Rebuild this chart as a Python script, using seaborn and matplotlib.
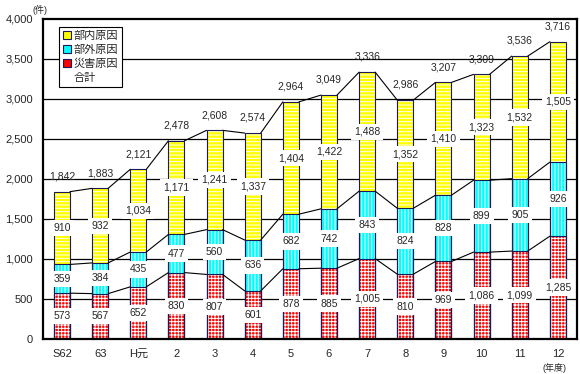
import matplotlib
matplotlib.use('Agg')
import matplotlib.pyplot as plt
import seaborn as sns
import pandas as pd
import numpy as np
from matplotlib.patches import Patch, Rectangle
from matplotlib.ticker import FuncFormatter

# data
years = ['S62', '63', 'H元', '2', '3', '4', '5', '6', '7', '8', '9', '10', '11', '12']
disaster = [573, 567, 652, 830, 807, 601, 878, 885, 1005, 810, 969, 1086, 1099, 1285]
external = [359, 384, 435, 477, 560, 636, 682, 742, 843, 824, 828, 899, 905, 926]
internal = [910, 932, 1034, 1171, 1241, 1337, 1404, 1422, 1488, 1352, 1410, 1323, 1532, 1505]
totals = [1842, 1883, 2121, 2478, 2608, 2574, 2964, 3049, 3336, 2986, 3207, 3309, 3536, 3716]

sns.set_style('white')
plt.rcParams['font.family'] = ['Liberation Sans', 'Noto Sans CJK JP', 'DejaVu Sans']
plt.rcParams['hatch.linewidth'] = 0.7

df = pd.DataFrame({'year': years, 'disaster': disaster, 'external': external,
                   'internal': internal, 'total': totals})
df['lvl1'] = df['disaster']
df['lvl2'] = df['disaster'] + df['external']
df['lvl3'] = df['lvl2'] + df['internal']

fig = plt.figure(figsize=(5.8, 3.74), dpi=100)
ax = fig.add_axes([0.074, 0.0936, 0.9207, 0.8556])

W = 0.42
edge = '#1a1a5a'
layers = [('lvl3', '#ffff00', '-----'), ('lvl2', '#00ffff', '|||||'), ('lvl1', '#ff0000', '+++++')]
for col, c, h in layers:
    sns.barplot(data=df, x='year', y=col, color=c, saturation=1, width=W, errorbar=None,
                hatch=h, edgecolor='white', linewidth=0, ax=ax, zorder=2)

# dark outlines on top of hatched bars
for p in list(ax.patches):
    ax.add_patch(Rectangle(p.get_xy(), p.get_width(), p.get_height(), fill=False,
                           edgecolor=edge, linewidth=0.8, zorder=2.5))

# series lines connecting segment tops
xs = np.arange(len(years))
for col in ['lvl1', 'lvl2', 'lvl3']:
    v = df[col].values
    for i in range(len(xs) - 1):
        ax.plot([xs[i] + W / 2, xs[i + 1] - W / 2], [v[i], v[i + 1]],
                color='black', lw=0.8, zorder=3)

# value labels
box = dict(boxstyle='square,pad=0.3', fc='white', ec='none')
fmt = lambda v: f'{v:,}'
for i in range(len(xs)):
    d, e, n = disaster[i], external[i], internal[i]
    ax.text(xs[i], d / 2, fmt(d), ha='center', va='center', fontsize=7.5, bbox=box, zorder=4)
    ax.text(xs[i], d + e / 2, fmt(e), ha='center', va='center', fontsize=7.5, bbox=box, zorder=4)
    ax.text(xs[i], d + e + n / 2, fmt(n), ha='center', va='center', fontsize=7.5, bbox=box, zorder=4)
    ax.annotate(fmt(totals[i]), (xs[i], d + e + n), xytext=(0, 11), textcoords='offset points',
                ha='center', va='center', fontsize=7.5, zorder=4)

ax.set_xlim(-0.5, len(years) - 0.5)
ax.set_ylim(0, 4000)
ax.set_yticks(np.arange(0, 4001, 500))
ax.yaxis.set_major_formatter(FuncFormatter(lambda v, pos: f'{int(v):,}'))
for yv in np.arange(500, 4000, 500):
    ax.axhline(yv, color='black', lw=0.9, zorder=1)
ax.set_xlabel('')
ax.set_ylabel('')
ax.tick_params(axis='y', length=0, pad=7, labelsize=8)
ax.tick_params(axis='x', length=0, pad=7, labelsize=8)
ax.set_xticks(xs + 0.5, minor=True)
ax.tick_params(axis='x', which='minor', direction='in', length=3, width=0.8, color='#444444')
for s in ax.spines.values():
    s.set_visible(True)
    s.set_color('black')
    s.set_linewidth(1.6)

# legend
handles = [Patch(fc='#ffff00', ec=edge, lw=0.8), Patch(fc='#00ffff', ec=edge, lw=0.8),
           Patch(fc='#ff0000', ec=edge, lw=0.8), Patch(fc='none', ec='none')]
labels = ['部内原因', '部外原因', '災害原因', '合計']
leg = ax.legend(handles, labels, loc='upper left', bbox_to_anchor=(0.03, 0.975),
                fontsize=8, frameon=True, fancybox=False, framealpha=1,
                handlelength=0.7, handleheight=0.7, handletextpad=0.3,
                labelspacing=0.35, borderpad=0.35, borderaxespad=0)
leg.get_frame().set_edgecolor('black')
leg.get_frame().set_linewidth(0.8)
leg.set_zorder(5)

fig.text(0.056, 0.972, '(件)', fontsize=6.5, ha='left', va='center')
fig.text(0.935, 0.004, '(年度)', fontsize=6.5, ha='left', va='bottom')

fig.savefig('out.png', dpi=100, facecolor='white')
